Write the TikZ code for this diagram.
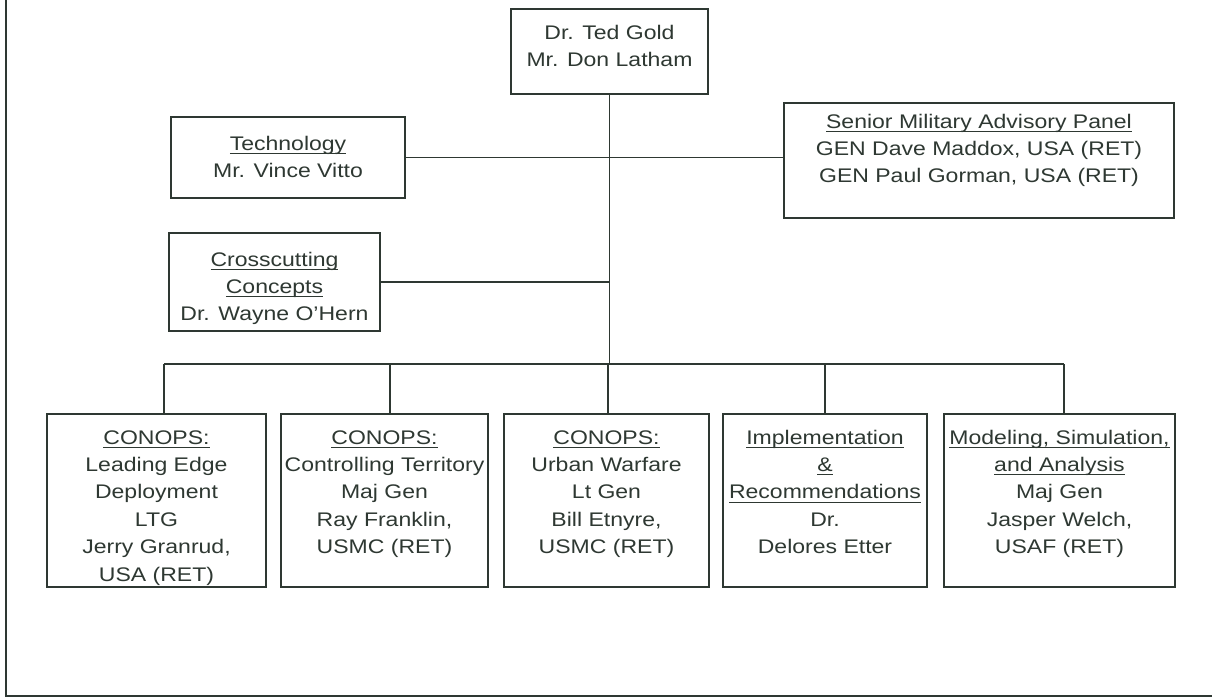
\documentclass[tikz,border=0pt]{standalone}
\usepackage{fontspec}
\setmainfont[FakeStretch=1.17]{Liberation Sans}
\newlength{\px}
\setlength{\px}{0.02cm}
\definecolor{ink}{HTML}{2E3832}
% width, height, first baseline, lines
\newcommand{\boxlines}[4]{\parbox[c][#2\px][t]{#1\px}{\centering\rule{0pt}{#3\px}#4}}
% underline through the descenders
\newsavebox{\ulbox}
\newcommand{\uln}[1]{\leavevmode\sbox{\ulbox}{#1}\rlap{\rule[-4\px]{\wd\ulbox}{0.7pt}}\usebox{\ulbox}}

\tikzset{
    unit/.style={draw, inner sep=0pt, line width=1pt, font=\fontsize{11.2}{15.6}\selectfont},
    wire/.style={line width=0.8pt}
}

\begin{document}
\begin{tikzpicture}[x=0.02cm, y=-0.02cm, color=ink]
            \useasboundingbox (0,0) rectangle (1212,698);

            % 1. Frame of the page
            \draw[line width=1.4pt] (6,0) -- (6,696) -- (1212,696);

            % 2. Leadership and staff boxes
            \node[unit] (lead) at (609.5,51.5) {\boxlines{197}{85}{30}{Dr. Ted Gold\\Mr. Don Latham}};
            \node[unit] (tech) at (288,157.5) {\boxlines{234}{81}{33}{\uln{Technology}\\Mr. Vince Vitto}};
            \node[unit] (panel) at (979,160.5) {\boxlines{390}{115}{25}{\uln{Senior Military Advisory Panel}\\GEN Dave Maddox, USA (RET)\\GEN Paul Gorman, USA (RET)}};
            \node[unit] (cross) at (274.5,282) {\boxlines{211}{98}{33}{\uln{Crosscutting}\\\uln{Concepts}\\Dr. Wayne O'Hern}};

            % 3. Panel boxes on the bottom row
            \node[unit] (b1) at (156.5,500.5) {\boxlines{219}{173}{30}{\uln{CONOPS:}\\Leading Edge\\Deployment\\LTG\\Jerry Granrud,\\USA (RET)}};
            \node[unit] (b2) at (384.5,500.5) {\boxlines{207}{173}{30}{\uln{CONOPS:}\\Controlling Territory\\Maj Gen\\Ray Franklin,\\USMC (RET)}};
            \node[unit] (b3) at (606.5,500.5) {\boxlines{205}{173}{30}{\uln{CONOPS:}\\Urban Warfare\\Lt Gen\\Bill Etnyre,\\USMC (RET)}};
            \node[unit] (b4) at (825,500.5) {\boxlines{204}{173}{30}{\uln{Implementation}\\\uln{\&}\\\uln{Recommendations}\\Dr.\\Delores Etter}};
            \node[unit] (b5) at (1059.5,500.5) {\boxlines{231}{173}{30}{\uln{Modeling, Simulation,}\\\uln{and Analysis}\\Maj Gen\\Jasper Welch,\\USAF (RET)}};

            % 4. Drop points on the bus
            \coordinate (d1) at (164,364);
            \coordinate (d2) at (390,364);
            \coordinate (d3) at (608,364);
            \coordinate (d4) at (825,364);
            \coordinate (d5) at (1064,364);

            % 5. Connectors
            \draw[wire] (lead.south) -- (lead.south |- d3);
            \draw[wire] (tech.east) -- (tech.east -| panel.west);
            \draw[wire] (cross.east) -- (cross.east -| lead.south);
            \draw[wire] (d1) -- (d5);
            \foreach \i in {1,...,5}
                \draw[wire] (d\i) -- (d\i |- b\i.north);

        \end{tikzpicture}
\end{document}
